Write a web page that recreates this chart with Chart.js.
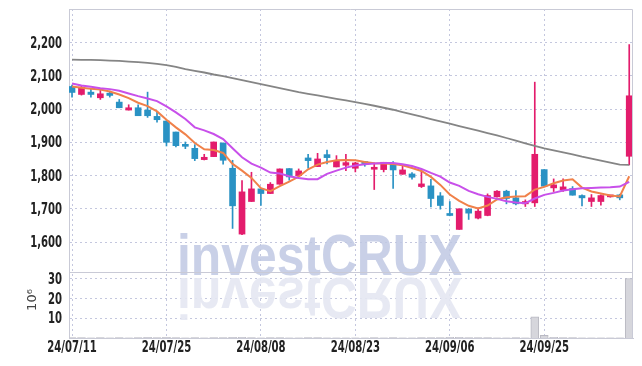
<!DOCTYPE html>
<html>
<head>
<meta charset="utf-8">
<script src="https://cdn.jsdelivr.net/npm/chart.js@4.4.0/dist/chart.umd.min.js"></script>
<style>
  html, body { margin: 0; padding: 0; background: #fff; }
  #wrap { width: 642px; height: 366px; }
</style>
</head>
<body>
<div id="wrap"><canvas id="chart" width="642" height="366"></canvas></div>
<script>
// x axis: one tick every 10 trading days
const tickIdx = [0, 10, 20, 30, 40, 50];
const tickDates = ['24/07/11', '24/07/25', '24/08/08', '24/08/23', '24/09/06', '24/09/25'];
const priceTicks = [1600, 1700, 1800, 1900, 2000, 2100, 2200];
const volTicks = [10, 20, 30];

// daily candles (KRW)
const opens  = [2068, 2044, 2051, 2034, 2048, 2021, 1997, 2004, 1997, 1978,
                1964, 1931, 1894, 1882, 1848, 1857, 1898, 1822, 1624, 1722,
                1760, 1746, 1774, 1821, 1800, 1853, 1827, 1863, 1826, 1831,
                1822, 1842, 1819, 1818, 1834, 1804, 1805, 1767, 1769, 1739,
                1685, 1638, 1699, 1672, 1680, 1736, 1753, 1733, 1715, 1718,
                1818, 1763, 1757, 1761, 1740, 1722, 1722, 1736, 1742, 1858];
const highs  = [2072, 2068, 2062, 2056, 2054, 2029, 2013, 2013, 2051, 1990,
                1965, 1931, 1901, 1893, 1864, 1901, 1898, 1846, 1785, 1810,
                1760, 1779, 1820, 1821, 1820, 1864, 1867, 1877, 1860, 1864,
                1840, 1842, 1838, 1840, 1842, 1831, 1809, 1819, 1789, 1749,
                1722, 1700, 1701, 1703, 1745, 1755, 1756, 1755, 1727, 2081,
                1818, 1790, 1790, 1767, 1742, 1743, 1742, 1738, 1744, 2194];
const lows   = [2036, 2042, 2036, 2029, 2036, 2004, 1997, 1980, 1975, 1961,
                1889, 1886, 1881, 1845, 1847, 1857, 1834, 1641, 1622, 1722,
                1710, 1746, 1774, 1786, 1798, 1822, 1827, 1835, 1826, 1815,
                1811, 1828, 1758, 1811, 1761, 1804, 1789, 1764, 1706, 1699,
                1679, 1638, 1668, 1670, 1679, 1735, 1715, 1712, 1707, 1707,
                1768, 1752, 1752, 1741, 1709, 1707, 1711, 1735, 1727, 1832];
const closes = [2050, 2066, 2044, 2046, 2041, 2004, 2004, 1980, 1980, 1968,
                1900, 1890, 1888, 1851, 1855, 1901, 1846, 1709, 1751, 1760,
                1746, 1774, 1820, 1796, 1814, 1845, 1850, 1854, 1843, 1839,
                1838, 1836, 1822, 1840, 1817, 1817, 1795, 1775, 1731, 1710,
                1680, 1700, 1687, 1693, 1740, 1753, 1731, 1715, 1722, 1864,
                1768, 1772, 1766, 1741, 1733, 1733, 1740, 1737, 1733, 2040];

// moving averages
const maShort = [2068, 2064, 2061, 2059, 2053, 2044, 2033, 2019, 2009, 1993,
                 1968, 1945, 1924, 1898, 1879, 1877, 1868, 1835, 1815, 1793,
                 1762, 1753, 1768, 1782, 1797, 1819, 1833, 1841, 1846, 1847,
                 1846, 1841, 1837, 1836, 1835, 1831, 1823, 1814, 1796, 1772,
                 1743, 1724, 1709, 1701, 1710, 1728, 1735, 1737, 1738, 1758,
                 1766, 1777, 1785, 1789, 1764, 1752, 1746, 1740, 1737, 1798];
const maMid   = [2077, 2071, 2067, 2063, 2060, 2055, 2047, 2039, 2032, 2024,
                 2008, 1990, 1970, 1945, 1936, 1925, 1910, 1882, 1855, 1836,
                 1824, 1809, 1806, 1798, 1793, 1789, 1789, 1805, 1815, 1824,
                 1830, 1834, 1836, 1838, 1838, 1834, 1829, 1820, 1808, 1797,
                 1779, 1769, 1754, 1744, 1736, 1730, 1723, 1719, 1717, 1731,
                 1742, 1748, 1755, 1759, 1762, 1763, 1764, 1765, 1767, 1781];
const maLong  = [2149, 2148, 2148, 2147, 2146, 2145, 2143, 2141, 2139, 2136,
                 2132, 2127, 2120, 2115, 2110, 2104, 2099, 2093, 2087, 2081,
                 2075, 2069, 2063, 2057, 2051, 2046, 2041, 2036, 2031, 2026,
                 2021, 2016, 2010, 2004, 1998, 1991, 1984, 1977, 1970, 1963,
                 1956, 1949, 1942, 1935, 1928, 1921, 1913, 1905, 1897, 1889,
                 1882, 1876, 1870, 1864, 1857, 1851, 1845, 1839, 1833, 1832];

// volume, millions of shares
const volumes = [0.2, 0.2, 0.1, 0.2, 0.1, 0.2, 0.1, 0.2, 0.3, 0.2,
                 0.3, 0.2, 0.1, 0.2, 0.1, 0.2, 0.2, 0.4, 0.4, 0.2,
                 0.1, 0.2, 0.2, 0.1, 0.1, 0.2, 0.2, 0.1, 0.1, 0.1,
                 0.1, 0.1, 0.2, 0.1, 0.2, 0.1, 0.1, 0.2, 0.2, 0.2,
                 0.3, 0.3, 0.2, 0.2, 0.2, 0.1, 0.1, 0.2, 0.1, 10.8,
                 1.3, 0.3, 0.2, 0.2, 0.1, 0.1, 0.1, 0.1, 0.1, 30.2];

const UP = '#e31c6c';
const DOWN = '#2a92c4';
const GRID = '#c4c7de';
const FRAME = '#c9cad6';
const LABEL_FONT = "bold 16px 'DejaVu Sans Condensed', 'DejaVu Sans', sans-serif";
const LABEL_SQUEEZE = 0.7;

const candleColors = opens.map((o, i) => closes[i] >= o ? UP : DOWN);
const bodies = opens.map((o, i) => ({ x: i, y: [o, closes[i]] }));
const wicks = opens.map((o, i) => ({ x: i, y: [lows[i], highs[i]] }));
const toPoints = arr => arr.map((v, i) => ({ x: i, y: v }));
const fixTicks = list => s => { s.ticks = list.map(v => ({ value: v })); };

// squeezed text, the reference uses a narrow bold face
function narrowText(ctx, text, x, y, align) {
  ctx.save();
  ctx.translate(x, y);
  ctx.scale(LABEL_SQUEEZE, 1);
  ctx.textAlign = align;
  ctx.fillText(text, 0, 0);
  ctx.restore();
}

const decor = {
  id: 'decor',
  beforeDatasetsDraw(chart) {
    // watermark with its mirror image
    const ctx = chart.ctx;
    ctx.save();
    ctx.font = "bold 58px 'Liberation Sans', sans-serif";
    const w = ctx.measureText('investCRUX').width;
    ctx.translate(177, 275);
    ctx.scale(285 / w, 1);
    ctx.fillStyle = 'rgba(228,231,242,0.9)';
    ctx.save();
    ctx.scale(1, -1);
    ctx.fillText('investCRUX', 0, -3);
    ctx.restore();
    ctx.fillStyle = 'rgba(192,200,227,0.85)';
    ctx.fillText('investCRUX', 0, 0);
    ctx.restore();
  },
  afterDraw(chart) {
    const ctx = chart.ctx;
    const a = chart.chartArea;
    const { x, y, yv } = chart.scales;
    const split = Math.round(yv.top) + 0.5;
    ctx.save();
    ctx.strokeStyle = FRAME;
    ctx.lineWidth = 1;
    ctx.beginPath();
    ctx.moveTo(a.left, a.top + 0.5);
    ctx.lineTo(a.right - 0.5, a.top + 0.5);
    ctx.lineTo(a.right - 0.5, a.bottom);
    ctx.moveTo(a.left, split);
    ctx.lineTo(a.right, split);
    ctx.stroke();

    ctx.fillStyle = '#222';
    ctx.font = LABEL_FONT;
    ctx.textBaseline = 'middle';
    priceTicks.forEach(v => narrowText(ctx, v.toLocaleString('en-US'), 62, y.getPixelForValue(v) + 1, 'right'));
    volTicks.forEach(v => narrowText(ctx, String(v), 62, yv.getPixelForValue(v) + 1, 'right'));
    tickIdx.forEach((v, i) => narrowText(ctx, tickDates[i], x.getPixelForValue(v), 348, 'center'));

    ctx.translate(33, 300);
    ctx.rotate(-Math.PI / 2);
    ctx.fillStyle = '#444';
    ctx.font = "13px 'DejaVu Sans', sans-serif";
    ctx.textAlign = 'center';
    ctx.fillText('10\u2076', 0, 0);
    ctx.restore();
  }
};

new Chart(document.getElementById('chart'), {
  data: {
    datasets: [
      { type: 'line', data: toPoints(maLong), borderColor: '#858585', borderWidth: 1.8,
        pointRadius: 0, yAxisID: 'y', order: 0 },
      { type: 'line', data: toPoints(maMid), borderColor: '#c850ea', borderWidth: 2,
        pointRadius: 0, yAxisID: 'y', order: 0 },
      { type: 'line', data: toPoints(maShort), borderColor: '#f0814a', borderWidth: 2,
        pointRadius: 0, yAxisID: 'y', order: 0 },
      { type: 'bar', data: bodies, backgroundColor: candleColors, barThickness: 6,
        minBarLength: 2, grouped: false, yAxisID: 'y', order: 1 },
      { type: 'bar', data: wicks, backgroundColor: candleColors, barThickness: 1,
        grouped: false, yAxisID: 'y', order: 2 },
      { type: 'bar', data: toPoints(volumes), backgroundColor: '#d6d6dc', borderColor: '#b9b9c2',
        borderWidth: 1, barThickness: 8, grouped: false, yAxisID: 'yv', order: 3 }
    ]
  },
  options: {
    responsive: false,
    animation: false,
    events: [],
    layout: { padding: { left: 0, right: 9, top: 9, bottom: 0 } },
    plugins: { legend: { display: false }, tooltip: { enabled: false } },
    scales: {
      x: {
        type: 'linear',
        offset: false,
        min: -0.32,
        max: 59.4,
        afterBuildTicks: fixTicks(tickIdx),
        afterFit: s => { s.height = 28; },
        ticks: { display: false },
        grid: { color: GRID, drawTicks: false, offset: false },
        border: { color: FRAME, dash: [2, 3] }
      },
      yv: {
        type: 'linear',
        position: 'left',
        stack: 'panels',
        stackWeight: 66,
        min: 0,
        max: 33.5,
        afterBuildTicks: fixTicks(volTicks),
        afterFit: s => { s.width = 69; },
        ticks: { display: false },
        grid: { color: GRID, drawTicks: false },
        border: { color: FRAME, dash: [2, 3] }
      },
      y: {
        type: 'linear',
        position: 'left',
        stack: 'panels',
        stackWeight: 263,
        min: 1510,
        max: 2301,
        afterBuildTicks: fixTicks(priceTicks),
        afterFit: s => { s.width = 69; },
        ticks: { display: false },
        grid: { color: GRID, drawTicks: false },
        border: { color: FRAME, dash: [2, 3] }
      }
    }
  },
  plugins: [decor]
});
</script>
</body>
</html>
